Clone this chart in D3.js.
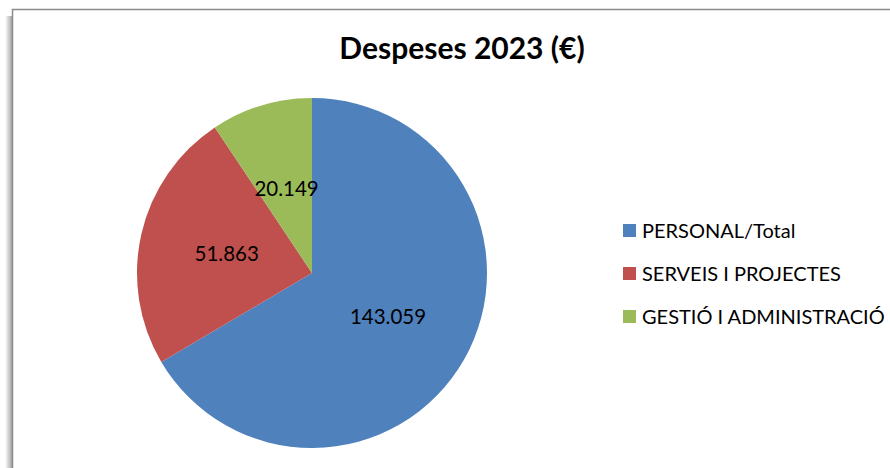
<!DOCTYPE html>
<html><head><meta charset="utf-8">
<script src="https://cdn.jsdelivr.net/npm/d3@7"></script>
<style>html,body{margin:0;padding:0;background:#fff;overflow:hidden}</style>
</head><body>
<svg id="c" width="890" height="468"></svg>
<script>
const categories = ["PERSONAL/Total", "SERVEIS I PROJECTES", "GESTIÓ I ADMINISTRACIÓ"];
const values = [143059, 51863, 20149];
const valueLabels = ["143.059", "51.863", "20.149"];
const colors = ["#4F81BD", "#C0504D", "#9BBB59"];
const title = "Despeses 2023 (€)";

const svg = d3.select("#c");
const defs = svg.append("defs");
const g1 = defs.append("linearGradient").attr("id","shL").attr("x1","0").attr("x2","1");
g1.append("stop").attr("offset","0").attr("stop-color","#fff");
g1.append("stop").attr("offset","1").attr("stop-color","#9a9a9a");

// frame shadow + border
svg.append("rect").attr("x",5).attr("y",16).attr("width",8).attr("height",460).attr("fill","url(#shL)");
svg.append("rect").attr("x",12.5).attr("y",9.5).attr("width",900).attr("height",500)
  .attr("fill","#fff").attr("stroke","#8c8c8c").attr("stroke-width",1.5);

const font = "Lato, 'Open Sans', sans-serif";
svg.append("text").attr("x",462).attr("y",59).attr("text-anchor","middle")
  .attr("font-family",font).attr("font-weight","bold").attr("font-size",30).attr("fill","#000").text(title);

const cx = 312, cy = 273, r = 175;
const pie = d3.pie().sort(null).value(d => d);
const arcs = pie(values);
const arc = d3.arc().innerRadius(0).outerRadius(r);
const gp = svg.append("g").attr("transform",`translate(${cx},${cy})`);
gp.selectAll("path").data(arcs).join("path").attr("d",arc).attr("fill",(d,i)=>colors[i]);

const labelArc = d3.arc().innerRadius(r*0.5).outerRadius(r*0.5);
gp.selectAll("text.v").data(arcs).join("text").attr("class","v")
  .attr("transform",d=>`translate(${labelArc.centroid(d)})`)
  .attr("text-anchor","middle").attr("dy","0.35em")
  .attr("font-family",font).attr("font-size",20.5).attr("fill","#000")
  .text((d,i)=>valueLabels[i]);

const lg = svg.append("g");
const ly = d3.scalePoint().domain(categories).range([231, 317]);
categories.forEach((c,i)=>{
  lg.append("rect").attr("x",623).attr("y",ly(c)-7).attr("width",13).attr("height",13).attr("fill",colors[i]);
  lg.append("text").attr("x",642).attr("y",ly(c)).attr("dy","0.35em")
    .attr("font-family",font).attr("font-size",20).attr("fill","#000").text(c);
});
</script>
</body></html>
